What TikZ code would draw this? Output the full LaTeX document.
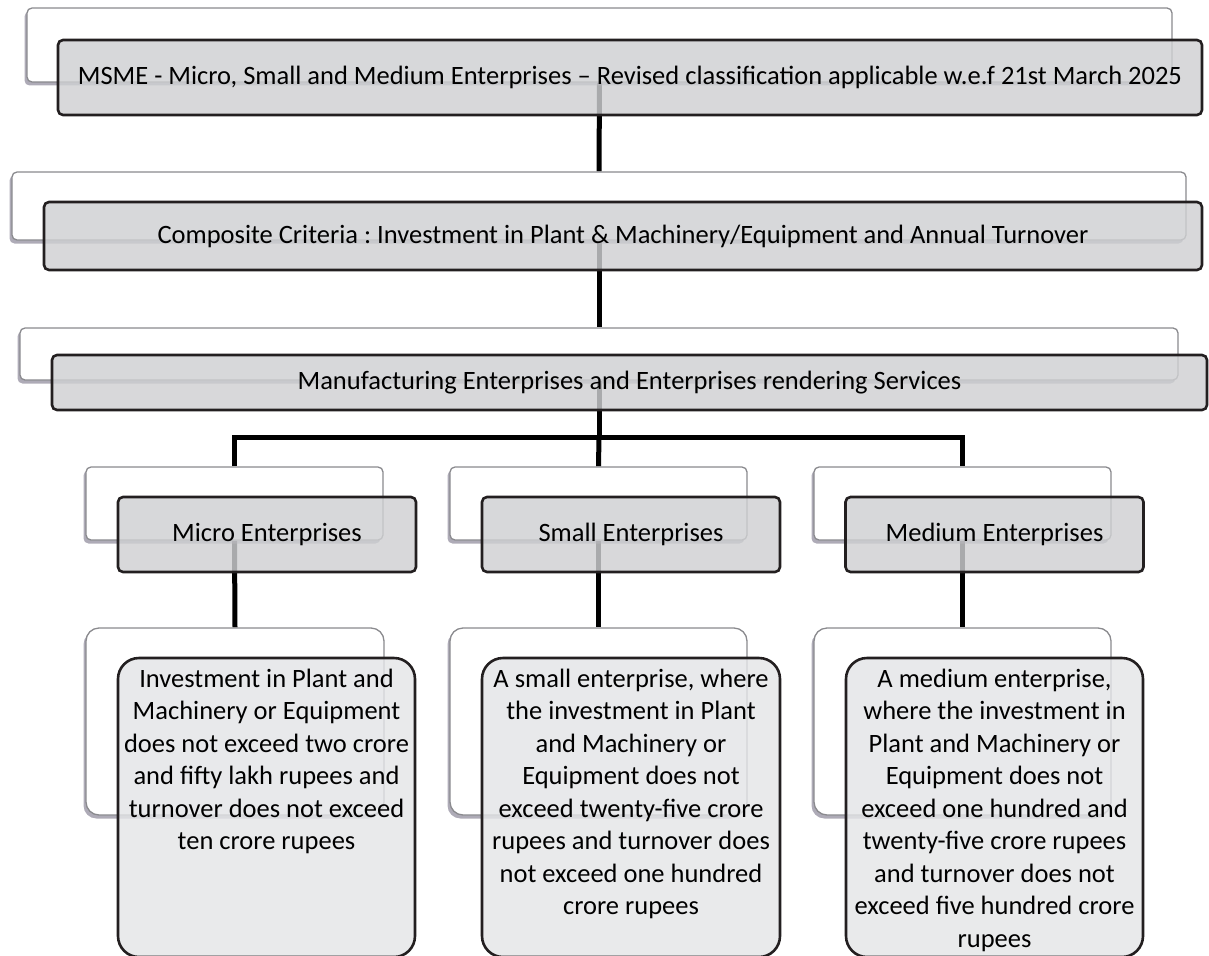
\documentclass[tikz,border=0pt]{standalone}
\usepackage{fontspec}
\setmainfont{Carlito}
\usetikzlibrary{positioning,shadows,backgrounds}
\frenchspacing

\definecolor{boxline}{HTML}{231F20}
\definecolor{boxgrey}{HTML}{CFD0D2}
\definecolor{cardgrey}{HTML}{E4E5E7}
\definecolor{backline}{HTML}{8A8A8E}
\definecolor{shadowgrey}{HTML}{5E5870}

\tikzset{
    backbox/.style={draw=backline, line width=1.3pt, fill=white, rounded corners=5pt,
        inner sep=0pt, drop shadow={shadow xshift=-2.5pt, shadow yshift=-3.5pt, fill=shadowgrey, opacity=0.5}},
    frontbox/.style={draw=boxline, line width=2.6pt, fill=boxgrey, fill opacity=0.82, text opacity=1,
        rounded corners=5pt, inner sep=0pt, font=\fontsize{26.5}{30}\selectfont},
    backcard/.style={backbox, rounded corners=13pt},
    frontcard/.style={frontbox, fill=cardgrey, rounded corners=21pt},
    cardtext/.style={align=center, inner sep=0pt, font=\fontsize{26.5}{32.5}\selectfont},
    link/.style={line width=5pt, black}
}

\begin{document}
\begin{tikzpicture}[x=1pt, y=-1pt]
    \useasboundingbox (0,0) rectangle (1209,955);

    % level 1
    \node[backbox, minimum width=1145pt, minimum height=74pt] (msmeBack) at (599.5,45) {};
    \node[frontbox, minimum width=1144pt, minimum height=75pt] (msme) at (630,77.5)
        {MSME - Micro, Small and Medium Enterprises -- Revised classification applicable w.e.f 21st March 2025};

    % level 2
    \node[backbox, minimum width=1174pt, minimum height=68pt] (critBack) at (599,206) {};
    \node[frontbox, minimum width=1158pt, minimum height=68pt] (crit) at (623,236)
        {Composite Criteria : Investment in Plant \& Machinery/Equipment and Annual Turnover\hspace{12pt}};

    % level 3
    \node[backbox, minimum width=1158pt, minimum height=52pt] (mfgBack) at (599,354) {};
    \node[frontbox, minimum width=1155pt, minimum height=55pt] (mfg) at (629.5,382.5)
        {Manufacturing Enterprises and Enterprises rendering Services};

    % level 4
    \node[backbox, minimum width=297pt, minimum height=73pt] (microBack) at (234.5,503.5) {};
    \node[frontbox, minimum width=298pt, minimum height=75pt] (micro) at (267,534.5) {Micro Enterprises};
    \node[backbox, minimum width=297pt, minimum height=73pt] (smallBack) at (598.5,503.5) {};
    \node[frontbox, minimum width=298pt, minimum height=75pt] (small) at (631,534.5) {Small Enterprises};
    \node[backbox, minimum width=297pt, minimum height=73pt] (mediumBack) at (962.5,503.5) {};
    \node[frontbox, minimum width=298pt, minimum height=75pt] (medium) at (994.5,534.5) {Medium Enterprises};

    % level 5
    \node[backcard, minimum width=298pt, minimum height=187pt] (microCardBack) at (235,721.5) {};
    \node[frontcard, minimum width=297pt, minimum height=299pt] (microCard) at (266.5,807.5) {};
    \node[cardtext, below=12pt of microCard.north] (microText)
        {Investment in Plant and\\Machinery or Equipment\\does not exceed two crore\\and fifty lakh rupees and\\turnover does not exceed\\ten crore rupees};

    \node[backcard, minimum width=297pt, minimum height=187pt] (smallCardBack) at (598.5,721.5) {};
    \node[frontcard, minimum width=298pt, minimum height=299pt] (smallCard) at (631,807.5) {};
    \node[cardtext, below=12pt of smallCard.north] (smallText)
        {A small enterprise, where\\the investment in Plant\\and Machinery or\\Equipment does not\\exceed twenty-five crore\\rupees and turnover does\\not exceed one hundred\\crore rupees};

    \node[backcard, minimum width=297pt, minimum height=187pt] (mediumCardBack) at (962.5,721.5) {};
    \node[frontcard, minimum width=297pt, minimum height=299pt] (mediumCard) at (994.5,807.5) {};
    \node[cardtext, below=12pt of mediumCard.north] (mediumText)
        {A medium enterprise,\\where the investment in\\Plant and Machinery or\\Equipment does not\\exceed one hundred and\\twenty-five crore rupees\\and turnover does not\\exceed five hundred crore\\rupees};

    % connectors behind the boxes
    \begin{scope}[on background layer]
        \draw[link] (msmeBack.south) -- (critBack.north);
        \draw[link] (critBack.south) -- (mfgBack.north);
        \coordinate (bus) at (599,437);
        \draw[link] (mfgBack.south) -- (bus);
        \draw[link] (microBack.north) |- (bus) -| (mediumBack.north);
        \draw[link] (bus) -- (smallBack.north);
        \draw[link] (microBack.south) -- (microCardBack.north);
        \draw[link] (smallBack.south) -- (smallCardBack.north);
        \draw[link] (mediumBack.south) -- (mediumCardBack.north);
    \end{scope}
\end{tikzpicture}
\end{document}
